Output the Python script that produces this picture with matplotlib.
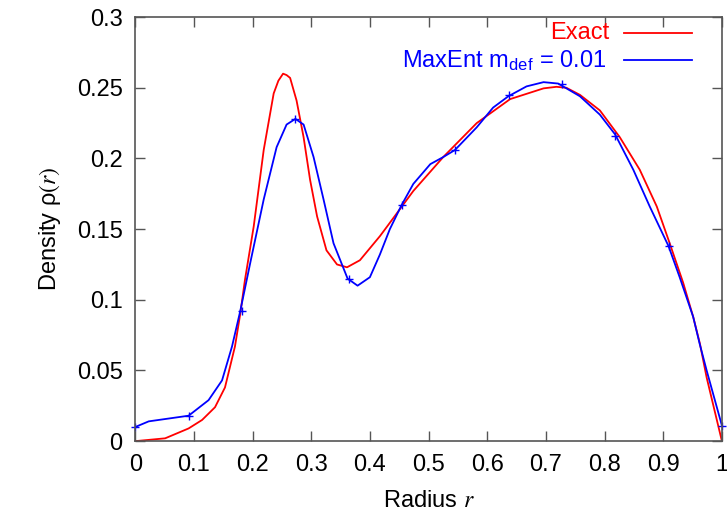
import matplotlib.pyplot as plt
import numpy as np

plt.rcParams['font.family'] = ['Liberation Sans', 'DejaVu Sans']
plt.rcParams['mathtext.fontset'] = 'stix'

# exact density
r_exact = [0.0, 0.051, 0.091, 0.114, 0.136, 0.153, 0.170, 0.179, 0.187, 0.202,
           0.219, 0.236, 0.244, 0.252, 0.258, 0.264, 0.275, 0.287, 0.298, 0.310,
           0.326, 0.344, 0.361, 0.383, 0.417, 0.426, 0.474, 0.525, 0.582, 0.639,
           0.696, 0.718, 0.735, 0.758, 0.792, 0.826, 0.860, 0.889, 0.911, 0.934,
           0.951, 0.9625, 0.974, 1.0]
rho_exact = [0.0, 0.002, 0.009, 0.015, 0.024, 0.038, 0.067, 0.090, 0.114, 0.152,
             0.206, 0.246, 0.255, 0.260, 0.259, 0.257, 0.241, 0.215, 0.185, 0.159,
             0.135, 0.125, 0.123, 0.128, 0.145, 0.150, 0.177, 0.201, 0.225, 0.242,
             0.2496, 0.2507, 0.250, 0.245, 0.234, 0.215, 0.192, 0.166, 0.140, 0.112,
             0.088, 0.069, 0.045, 0.0]

# MaxEnt reconstruction (line)
r_maxent = [0.0, 0.023, 0.057, 0.091, 0.125, 0.148, 0.165, 0.179, 0.196, 0.219,
            0.241, 0.258, 0.273, 0.287, 0.304, 0.321, 0.338, 0.362, 0.379, 0.400,
            0.417, 0.434, 0.454, 0.474, 0.503, 0.525, 0.545, 0.582, 0.610, 0.636,
            0.667, 0.696, 0.721, 0.758, 0.792, 0.818, 0.849, 0.877, 0.909, 0.928,
            0.951, 0.962, 0.974, 1.0]
rho_maxent = [0.010, 0.014, 0.016, 0.018, 0.029, 0.043, 0.067, 0.092, 0.126, 0.171,
              0.208, 0.224, 0.228, 0.224, 0.201, 0.171, 0.140, 0.115, 0.110, 0.116,
              0.132, 0.150, 0.167, 0.182, 0.196, 0.201, 0.206, 0.222, 0.236, 0.244,
              0.251, 0.254, 0.253, 0.244, 0.231, 0.217, 0.192, 0.166, 0.138, 0.116,
              0.088, 0.069, 0.050, 0.011]

# MaxEnt points (markers)
r_pts = [0.0, 0.0909, 0.1818, 0.2727, 0.3636, 0.4545, 0.5455, 0.6364, 0.7273, 0.8182, 0.9091, 1.0]
rho_pts = [0.010, 0.018, 0.092, 0.228, 0.115, 0.167, 0.206, 0.245, 0.253, 0.216, 0.138, 0.011]

xticks = [0, 0.1, 0.2, 0.3, 0.4, 0.5, 0.6, 0.7, 0.8, 0.9, 1]
yticks = [0, 0.05, 0.1, 0.15, 0.2, 0.25, 0.3]

fig = plt.figure(figsize=(7.27, 5.19), dpi=100)
ax = fig.add_axes([0.186, 0.150, 0.807, 0.817])

ax.plot(r_exact, rho_exact, color='#ff0000', lw=1.3)
ax.plot(r_maxent, rho_maxent, color='#0000ff', lw=1.3)
ax.plot(r_pts, rho_pts, '+', color='#0000ff', ms=6, mew=1.0, clip_on=False)

ax.set_xlim(0, 1)
ax.set_ylim(0, 0.3)
ax.set_xticks(xticks)
ax.set_xticklabels(['0', '0.1', '0.2', '0.3', '0.4', '0.5', '0.6', '0.7', '0.8', '0.9', '1'])
ax.set_yticks(yticks)
ax.set_yticklabels(['0', '0.05', '0.1', '0.15', '0.2', '0.25', '0.3'])
ax.tick_params(direction='in', length=7, width=1, top=True, right=True,
               labelsize=17, pad=9, color='#555555')
for s in ax.spines.values():
    s.set_color('#555555')
    s.set_linewidth(1.2)

ax.set_xlabel('Radius $r$', fontsize=17, labelpad=10)
ax.set_ylabel(r'Density ρ$(r)$', fontsize=17, labelpad=10)

# gnuplot-style key: right-aligned coloured text with a sample line
ax.text(0.808, 0.962, 'Exact', color='#ff0000', fontsize=17, ha='right', va='center',
        transform=ax.transAxes)
ax.plot([0.833, 0.949], [0.962, 0.962], color='#ff0000', lw=1.3, transform=ax.transAxes)
ax.text(0.804, 0.898, r'MaxEnt m$_{\mathregular{def}}$ = 0.01', color='#0000ff', fontsize=17,
        ha='right', va='center', transform=ax.transAxes)
ax.plot([0.833, 0.949], [0.898, 0.898], color='#0000ff', lw=1.3, transform=ax.transAxes)

fig.savefig('out.png', dpi=100)
